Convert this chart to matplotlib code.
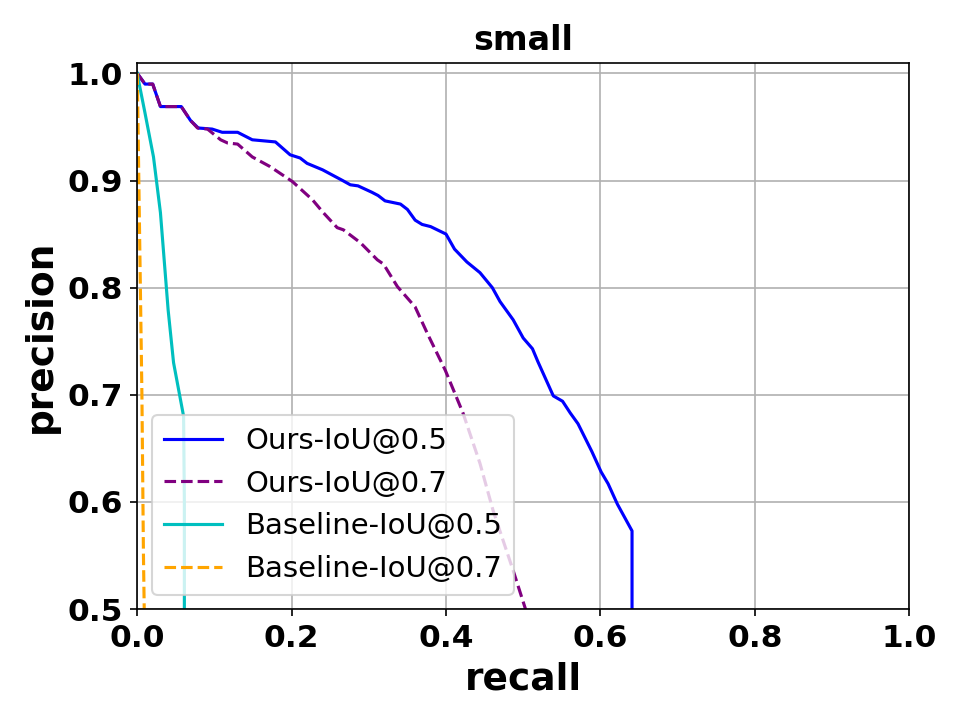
import matplotlib
matplotlib.use("Agg")
import matplotlib.pyplot as plt

# PR curves, small objects
ours05_r = [0.0, 0.010, 0.020, 0.030, 0.057, 0.069, 0.079, 0.097, 0.110, 0.130, 0.149, 0.179,
            0.198, 0.211, 0.220, 0.240, 0.266, 0.276, 0.286, 0.304, 0.312, 0.321, 0.341, 0.350,
            0.360, 0.369, 0.380, 0.400, 0.411, 0.427, 0.444, 0.460, 0.470, 0.487, 0.500, 0.512,
            0.519, 0.539, 0.551, 0.561, 0.571, 0.589, 0.601, 0.610, 0.622, 0.641, 0.641]
ours05_p = [1.0, 0.990, 0.990, 0.969, 0.969, 0.956, 0.949, 0.948, 0.945, 0.945, 0.938, 0.936,
            0.924, 0.921, 0.916, 0.910, 0.900, 0.896, 0.895, 0.889, 0.886, 0.881, 0.878, 0.873,
            0.863, 0.859, 0.857, 0.850, 0.836, 0.824, 0.814, 0.800, 0.787, 0.770, 0.753, 0.743,
            0.731, 0.699, 0.694, 0.683, 0.673, 0.647, 0.628, 0.617, 0.598, 0.573, 0.0]

ours07_r = [0.0, 0.010, 0.020, 0.030, 0.057, 0.069, 0.078, 0.091, 0.108, 0.117, 0.130, 0.149,
            0.172, 0.201, 0.227, 0.241, 0.259, 0.267, 0.289, 0.311, 0.319, 0.337, 0.360, 0.376,
            0.399, 0.422, 0.444, 0.461, 0.487, 0.503, 0.520, 0.520]
ours07_p = [1.0, 0.990, 0.990, 0.969, 0.969, 0.956, 0.949, 0.948, 0.938, 0.935, 0.934, 0.922,
            0.913, 0.899, 0.882, 0.870, 0.856, 0.854, 0.842, 0.826, 0.822, 0.801, 0.782, 0.757,
            0.723, 0.683, 0.636, 0.592, 0.536, 0.500, 0.460, 0.0]

base05_r = [0.0, 0.002, 0.010, 0.021, 0.030, 0.040, 0.047, 0.060, 0.061, 0.061]
base05_p = [1.0, 0.992, 0.963, 0.922, 0.870, 0.779, 0.730, 0.680, 0.600, 0.0]

base07_r = [0.0, 0.002, 0.004, 0.006, 0.008, 0.009, 0.009]
base07_p = [1.0, 0.900, 0.800, 0.700, 0.550, 0.500, 0.0]

plt.figure(figsize=(6.4, 4.8), dpi=150)
plt.plot(ours05_r, ours05_p, color='blue', linestyle='-', label='Ours-IoU@0.5')
plt.plot(ours07_r, ours07_p, color='purple', linestyle='--', label='Ours-IoU@0.7')
plt.plot(base05_r, base05_p, color='c', linestyle='-', label='Baseline-IoU@0.5')
plt.plot(base07_r, base07_p, color='orange', linestyle='--', label='Baseline-IoU@0.7')
plt.xlim(0, 1.0)
plt.ylim(0.5, 1.01)
plt.grid(True)
plt.xticks([0.0, 0.2, 0.4, 0.6, 0.8, 1.0], fontsize=15, fontweight='bold')
plt.yticks([0.5, 0.6, 0.7, 0.8, 0.9, 1.0], fontsize=15, fontweight='bold')
plt.xlabel("recall", fontsize=18, fontweight='bold')
plt.ylabel("precision", fontsize=18, fontweight='bold')
plt.title("small", fontsize=16, fontweight='bold')
plt.legend(loc='lower left', fontsize=14)
plt.subplots_adjust(left=0.143, right=0.947, top=0.913, bottom=0.154)
plt.savefig("out.png", dpi=150)
plt.close()
